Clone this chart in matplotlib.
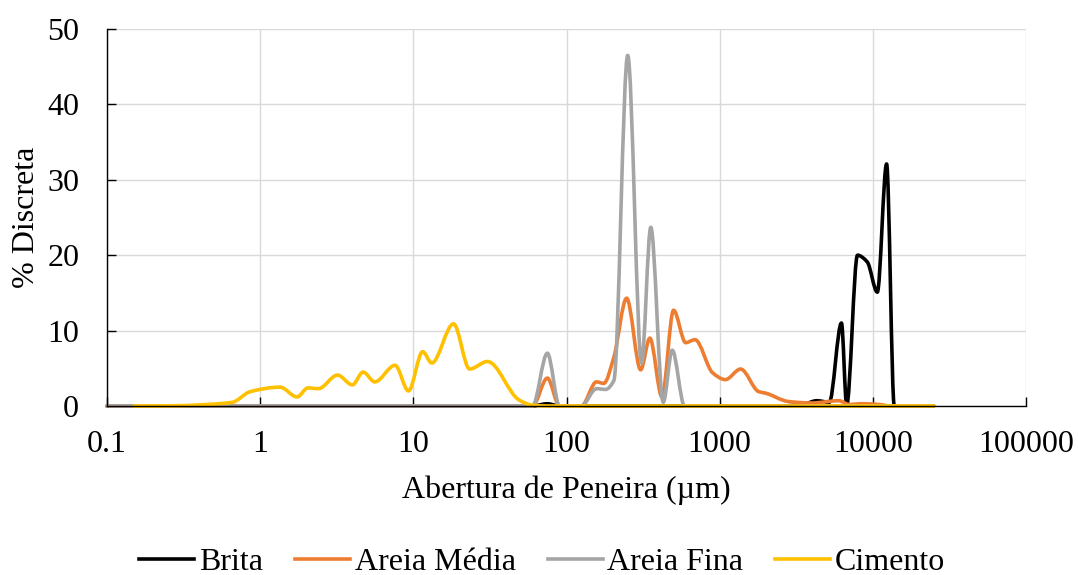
import numpy as np
import matplotlib
matplotlib.use('Agg')
import matplotlib.pyplot as plt
from matplotlib.path import Path
from matplotlib.patches import PathPatch
from matplotlib.lines import Line2D
from matplotlib.ticker import FixedLocator, FuncFormatter, NullLocator

plt.rcParams['font.family'] = ['Liberation Serif', 'DejaVu Serif']

# Brita
brita_x = [0.1, 1, 10, 40, 60, 75, 90, 125, 200, 400, 800, 1500, 2500, 3500,
           4300, 5200, 6240, 6750, 7940, 9200, 10700, 12300, 13800, 16000, 20000, 25000]
brita_y = [0, 0, 0, 0, 0, 0.3, 0, 0, 0, 0, 0, 0, 0, 0.2,
           0.7, 0.5, 11.0, 0.1, 20.0, 19.1, 15.1, 32.1, 0, 0, 0, 0]

# Areia Média
media_x = [0.1, 1, 10, 40, 60, 75, 90, 106, 125, 157, 175, 204, 247, 305, 350, 420,
           500, 600, 690, 900, 1090, 1370, 1800, 2000, 2800, 4000, 6000, 7000, 8500,
           11000, 13000, 16000, 20000, 25000]
media_y = [0, 0, 0, 0, 0, 3.7, 0, 0, 0, 3.2, 3.0, 6.5, 14.3, 4.8, 9.0, 1.2,
           12.7, 8.4, 8.8, 4.4, 3.5, 4.9, 1.9, 1.7, 0.6, 0.4, 0.7, 0.2, 0.3,
           0.2, 0, 0, 0, 0]

# Areia Fina
fina_x = [0.1, 1, 10, 40, 60, 75, 90, 106, 125, 157, 180, 204, 251, 309, 355, 428,
          490, 590, 700, 1000, 2000, 5000, 10000, 25000]
fina_y = [0, 0, 0, 0, 0, 7.0, 0, 0, 0, 2.3, 2.2, 3.4, 46.5, 5.7, 23.7, 0.5,
          7.4, 0, 0, 0, 0, 0, 0, 0]

# Cimento
cim_x = [0.15, 0.3, 0.49, 0.66, 0.86, 1.35, 1.74, 2.05, 2.4, 3.2, 4.0, 4.7, 5.6,
         7.6, 9.3, 11.5, 13.2, 18.3, 23.3, 30.5, 49, 60, 75, 100, 200, 500, 1000,
         2000, 5000, 10000, 25000]
cim_y = [0, 0.05, 0.25, 0.5, 1.9, 2.5, 1.2, 2.4, 2.3, 4.1, 2.8, 4.5, 3.2,
         5.4, 2.0, 7.2, 5.7, 10.9, 4.9, 5.9, 0.8, 0.1, 0, 0, 0, 0, 0,
         0, 0, 0, 0]

series = [
    ('Brita', brita_x, brita_y, '#000000'),
    ('Areia Média', media_x, media_y, '#ED7D31'),
    ('Areia Fina', fina_x, fina_y, '#A5A5A5'),
    ('Cimento', cim_x, cim_y, '#FFC000'),
]

x_ticks = [0.1, 1, 10, 100, 1000, 10000, 100000]
y_ticks = [0, 10, 20, 30, 40, 50]


def smooth_path(xs, ys):
    # linha suavizada: Bezier cubica em (log10 x, y), tangentes monotonas (sem overshoot)
    lx = np.log10(xs)
    y = np.asarray(ys, dtype=float)
    n = len(lx)
    h = np.diff(lx)
    d = np.diff(y) / h
    m = np.zeros(n)
    for i in range(1, n - 1):
        if d[i - 1] * d[i] > 0:
            w1 = 2 * h[i] + h[i - 1]
            w2 = h[i] + 2 * h[i - 1]
            m[i] = (w1 + w2) / (w1 / d[i - 1] + w2 / d[i])
    verts = [(xs[0], y[0])]
    codes = [Path.MOVETO]
    for i in range(n - 1):
        c1 = (lx[i] + h[i] / 3, y[i] + m[i] * h[i] / 3)
        c2 = (lx[i + 1] - h[i] / 3, y[i + 1] - m[i + 1] * h[i] / 3)
        verts += [(10 ** c1[0], c1[1]), (10 ** c2[0], c2[1]), (xs[i + 1], y[i + 1])]
        codes += [Path.CURVE4] * 3
    return Path(verts, codes)


fig = plt.figure(figsize=(10.78, 5.75), dpi=100)
ax = fig.add_axes([107 / 1078, 1 - 406 / 575, 919 / 1078, 377 / 575])
ax.set_xscale('log')
ax.set_xlim(0.1, 100000)
ax.set_ylim(0, 50)

handles = []
for name, xs, ys, color in series:
    patch = PathPatch(smooth_path(xs, ys), facecolor='none', edgecolor=color,
                      lw=2.6, capstyle='round', joinstyle='round', clip_on=False)
    ax.add_patch(patch)
    handles.append(Line2D([], [], color=color, lw=2.6, label=name))

ax.xaxis.set_major_locator(FixedLocator(x_ticks))
ax.xaxis.set_minor_locator(NullLocator())
ax.xaxis.set_major_formatter(FuncFormatter(lambda v, p: '%g' % v))
ax.yaxis.set_major_locator(FixedLocator(y_ticks))

ax.grid(True, color='#d9d9d9', lw=1.0)
ax.set_axisbelow(True)
for s in ['top', 'right']:
    ax.spines[s].set_visible(False)
for s in ['left', 'bottom']:
    ax.spines[s].set_color('black')
    ax.spines[s].set_linewidth(1.0)

ax.tick_params(axis='both', direction='in', length=6.5, width=1.0, labelsize=23,
               colors='black')
ax.tick_params(axis='x', pad=17)
ax.tick_params(axis='y', pad=20)

ax.set_xlabel('Abertura de Peneira (µm)', fontsize=23)
ax.set_ylabel('% Discreta', fontsize=23)
ax.xaxis.set_label_coords(0.5, -0.185)
ax.yaxis.set_label_coords(-0.072, 0.5)

fig.legend(handles=handles, loc='center', bbox_to_anchor=(0.503, 0.022), ncol=4,
           frameon=False, fontsize=23, handlelength=1.72, handletextpad=0.15,
           columnspacing=1.0, borderpad=0, borderaxespad=0)

fig.savefig('out.png', dpi=100)
